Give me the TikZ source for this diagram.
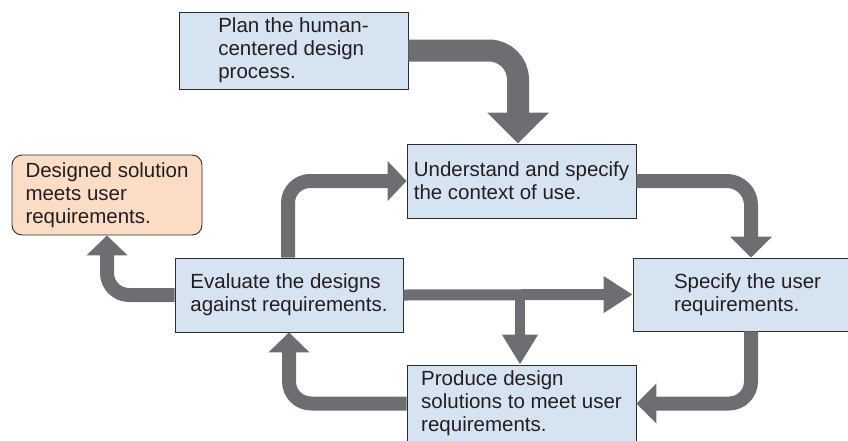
\documentclass[tikz,border=0pt]{standalone}
\usepackage{fontspec}
\setmainfont{Liberation Sans}
\usepackage{xcolor}
\usetikzlibrary{arrows.meta}
\definecolor{stagefill}{RGB}{214,227,240}
\definecolor{goalfill}{RGB}{251,220,197}
\definecolor{flowgray}{RGB}{109,110,113}
\definecolor{edgegray}{RGB}{45,45,45}
\definecolor{inkgray}{RGB}{35,31,32}

\begin{document}
\begin{tikzpicture}[x=1pt, y=-1pt,
    stage/.style={draw=edgegray, line width=0.9pt, fill=stagefill, align=left,
      minimum width=229pt, minimum height=74pt, inner sep=0pt, text=inkgray,
      font=\fontsize{20.5}{23}\selectfont},
    goal/.style={stage, fill=goalfill, rounded corners=10pt,
      minimum width=190pt, minimum height=80pt},
    flow/.style={draw=flowgray, line width=14pt, rounded corners=22pt,
      -{Triangle[width=40pt, length=20pt]}}]
    \useasboundingbox (0,0) rectangle (848,440);
    \clip (0,0) rectangle (848,440);

    \node[stage, minimum height=77pt] (plan) at (293.5,50.5) {Plan the human-\\centered design\\process.};
    \node[stage] (context) at (521.5,181) {Understand and specify\\the context of use.};
    \node[stage, minimum height=73pt] (userreq) at (747.5,294.5) {Specify the user\\requirements.};
    \node[stage, minimum width=228pt] (evaluate) at (289,295) {Evaluate the designs\\against requirements.};
    \node[stage, minimum height=77pt] (produce) at (521.5,403.5) {Produce design\\solutions to meet user\\requirements.};
    \node[goal] (solution) at (107,195) {Designed solution\\meets user\\requirements.};

    \draw[flow, line width=22pt, rounded corners=29pt, -{Triangle[width=60pt, length=31pt]}]
      (plan.east) -| ([xshift=-3.5pt]context.north);
    \draw[flow, rounded corners=24pt, -{Triangle[width=41pt, length=21pt]}]
      (context.east) -| ([xshift=3.5pt]userreq.north);
    \draw[flow, -{Triangle[width=39pt, length=20pt]}] ([xshift=3.5pt]userreq.south) |- (produce.east);
    \draw[flow] (produce.west) -| (evaluate.south);
    \draw[flow, -{Triangle[width=39pt, length=19pt]}] ([xshift=-1pt]evaluate.north) |- (context.west);
    \draw[flow] (evaluate.west) -| (solution.south);
    \draw[flow, line width=11pt, -{Triangle[width=35pt, length=29pt]}] (evaluate.east) -- (userreq.west);
    \coordinate (split) at (evaluate.east -| produce.north);
    \draw[flow, line width=10pt, -{Triangle[width=34pt, length=30pt]}]
      ([xshift=-1.5pt]split) -- ([xshift=-1.5pt]produce.north);
\end{tikzpicture}
\end{document}
